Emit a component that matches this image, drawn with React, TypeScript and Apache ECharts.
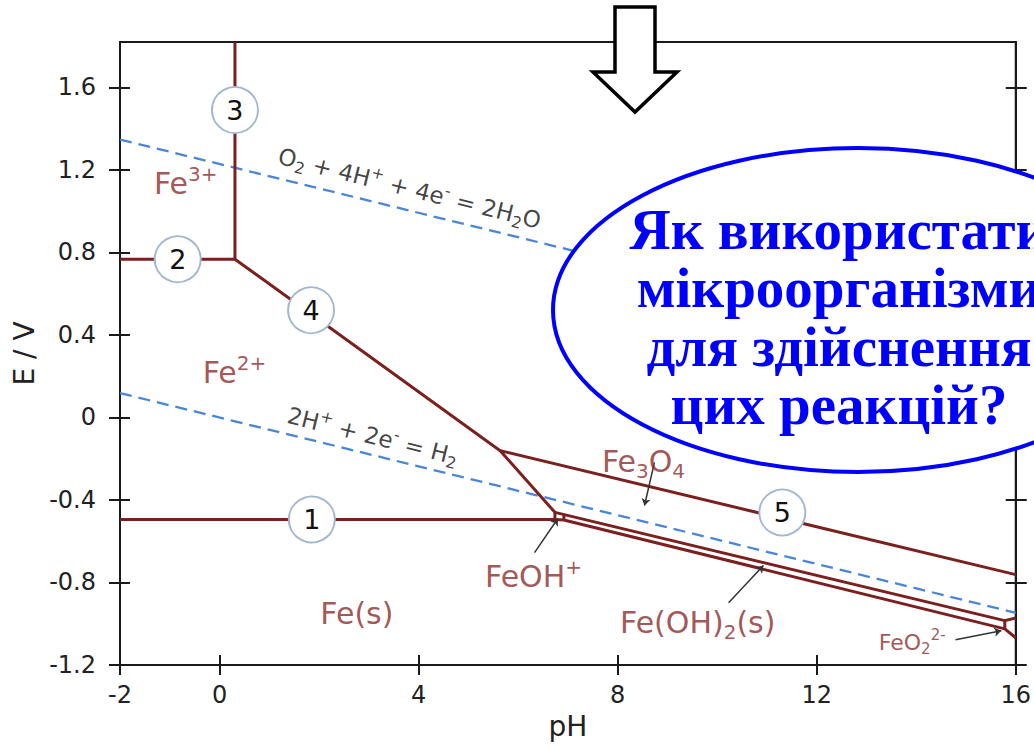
import React, { useEffect, useRef } from "react";
import * as echarts from "echarts";

// Axis ticks
const xTicks = [-2, 0, 4, 8, 12, 16];
const yTicks = [-1.2, -0.8, -0.4, 0, 0.4, 0.8, 1.2, 1.6];

// Phase boundaries [pH, E/V]
const lineFe2Fe = [[-2, -0.495], [6.74, -0.495]];
const lineFe3Fe2 = [[-2, 0.767], [0.31, 0.767]];
const lineFe3Oxide = [[0.31, 0.767], [0.31, 1.82]];
const lineOxideFe2 = [[0.31, 0.767], [5.64, -0.161], [6.74, -0.46]];
const lineOxideMagnetite = [[5.64, -0.161], [16, -0.762]];
const lineMagnetiteHydroxide = [[6.74, -0.46], [15.78, -0.985], [16, -0.972]];
const lineHydroxideFe = [[6.92, -0.497], [15.78, -1.025], [16, -1.068]];
const lineFeOHLeft = [[6.74, -0.46], [6.74, -0.495], [6.92, -0.497]];
const lineFeOHRight = [[6.92, -0.47], [6.92, -0.497]];
const lineFeO2 = [[15.78, -0.985], [15.78, -1.025]];
const boundaries = [
  lineFe2Fe, lineFe3Fe2, lineFe3Oxide, lineOxideFe2, lineOxideMagnetite,
  lineMagnetiteHydroxide, lineHydroxideFe, lineFeOHLeft, lineFeOHRight, lineFeO2,
];

// Water stability lines
const waterO2 = [[-2, 1.347], [16, 0.282]];
const waterH2 = [[-2, 0.118], [16, -0.947]];

// Numbered circles
const circleNums = ["1", "2", "3", "4", "5"];
const circlePos = [[1.855, -0.495], [-0.84, 0.767], [0.31, 1.49], [1.84, 0.52], [11.31, -0.461]];

// Region labels (rich-text markup: sup = superscript, sub = subscript)
const regionNames = ["{b|Fe}{sup|3+}", "{b|Fe}{sup|2+}", "{b|Fe(s)}", "{b|Fe}{sub|3}{b|O}{sub|4}", "{b|FeOH}{sup|+}", "{b|Fe(OH)}{sub|2}{b|(s)}"];
const regionPos = [[-0.68, 1.135], [0.3, 0.22], [2.76, -0.95], [8.52, -0.215], [6.31, -0.77], [9.61, -0.995]];
const smallNames = ["{b|FeO}{sub|2}{sup|2-}"];
const smallPos = [[13.92, -1.09]];

// Reaction labels
const reactionNames = ["{b|O}{sub|2}{b| + 4H}{sup|+}{b| + 4e}{sup|-}{b| = 2H}{sub|2}{b|O}", "{b|2H}{sup|+}{b| + 2e}{sup|-}{b| = H}{sub|2}"];
const reactionPos = [[3.82, 1.11], [3.08, -0.09]];

// Pointer arrows [from, to]
const pointers = [
  [[8.74, -0.218], [8.54, -0.427]],
  [[6.33, -0.655], [6.8, -0.49]],
  [[10.23, -0.898], [10.93, -0.718]],
  [[14.79, -1.078], [15.71, -1.034]],
];

// Overlay question
const questionLines = ["Як використати", "мікроорганізми", "для здійснення", "цих реакцій?"];

const FONT = "DejaVu Sans";
const AXIS = "#1a1a1a";
const BROWN = "#7b1f1f";
const LABEL_BROWN = "#8b2b2b";

function fmt(v: number) {
  if (Math.abs(v) < 1e-9) return "0";
  return Number.isInteger(v) ? String(v) : v.toFixed(1);
}

function richSet(size: number, color: string) {
  const small = Math.round(size * 0.68);
  const lh = Math.round(size * 1.3);
  return {
    b: { fontSize: size, color, fontFamily: FONT, lineHeight: lh, verticalAlign: "middle" },
    sup: { fontSize: small, color, fontFamily: FONT, lineHeight: small, verticalAlign: "top" },
    sub: { fontSize: small, color, fontFamily: FONT, lineHeight: small, verticalAlign: "bottom" },
  };
}

export default function App() {
  const ref = useRef<HTMLDivElement>(null);
  useEffect(() => {
    document.body.style.margin = "0";
    const chart = echarts.init(ref.current!, null, { renderer: "svg" });
    const baseX = {
      type: "value",
      min: -2,
      max: 16,
      position: "bottom",
      splitLine: { show: false },
    };
    const baseY = {
      type: "value",
      min: -1.2,
      max: 1.82,
      splitLine: { show: false },
    };
    const tickStyle = { color: AXIS, width: 2 };
    const option: any = {
      animation: false,
      backgroundColor: "#ffffff",
      textStyle: { fontFamily: FONT },
      grid: {
        left: 120, right: 18, top: 42, bottom: 82,
        show: true, borderColor: AXIS, borderWidth: 2, backgroundColor: "transparent",
      },
      xAxis: [
        {
          ...baseX,
          axisLine: { show: true, onZero: false, lineStyle: { color: AXIS, width: 2 } },
          axisTick: { show: true, length: 10, customValues: xTicks, lineStyle: tickStyle },
          axisLabel: {
            customValues: xTicks, fontSize: 24, color: "#222", margin: 18, fontFamily: FONT,
            formatter: (v: number) => fmt(v),
          },
          name: "pH", nameLocation: "middle", nameGap: 47,
          nameTextStyle: { fontSize: 28, color: "#222", fontFamily: FONT },
        },
        {
          ...baseX,
          axisLine: { show: false, onZero: false },
          axisTick: { show: true, inside: true, length: 10, customValues: xTicks, lineStyle: tickStyle },
          axisLabel: { show: false },
        },
      ],
      yAxis: [
        {
          ...baseY,
          position: "left",
          axisLine: { show: true, onZero: false, lineStyle: { color: AXIS, width: 2 } },
          axisTick: { show: true, length: 11, customValues: yTicks, lineStyle: tickStyle },
          axisLabel: {
            customValues: yTicks, fontSize: 24, color: "#222", margin: 24, fontFamily: FONT,
            formatter: (v: number) => fmt(v),
          },
          name: "E / V", nameLocation: "middle", nameGap: 76, nameRotate: 90,
          nameTextStyle: { fontSize: 28, color: "#222", fontFamily: FONT },
        },
        {
          ...baseY,
          position: "left",
          axisLine: { show: false, onZero: false },
          axisTick: { show: true, inside: true, length: 10, customValues: yTicks, lineStyle: tickStyle },
          axisLabel: { show: false },
        },
        {
          ...baseY,
          position: "right",
          axisLine: { show: true, onZero: false, lineStyle: { color: AXIS, width: 2 } },
          axisTick: { show: true, length: 11, customValues: yTicks, lineStyle: tickStyle },
          axisLabel: { show: false },
        },
        {
          ...baseY,
          position: "right",
          axisLine: { show: false, onZero: false },
          axisTick: { show: true, inside: true, length: 10, customValues: yTicks, lineStyle: tickStyle },
          axisLabel: { show: false },
        },
      ],
      series: [
        ...boundaries.map((d) => ({
          type: "line",
          data: d,
          symbol: "none",
          z: 3,
          lineStyle: { color: BROWN, width: 3 },
        })),
        ...[waterO2, waterH2].map((d) => ({
          type: "line",
          data: d,
          symbol: "none",
          z: 2,
          lineStyle: { color: "#4a86d8", width: 2.3, type: [12, 7] },
        })),
        {
          type: "lines",
          coordinateSystem: "cartesian2d",
          symbol: ["none", "arrow"],
          symbolSize: 7,
          z: 4,
          lineStyle: { color: "#333", width: 1.5, opacity: 1 },
          data: pointers.map((p) => ({ coords: p })),
        },
        {
          type: "scatter",
          z: 5,
          symbol: "circle",
          symbolSize: 46,
          data: circlePos,
          itemStyle: { color: "#ffffff", borderColor: "#a3b7d1", borderWidth: 2, opacity: 1 },
          label: {
            show: true, position: "inside", color: "#111", fontSize: 27, fontFamily: FONT,
            formatter: (p: any) => circleNums[p.dataIndex],
          },
        },
        {
          type: "scatter",
          z: 6,
          symbolSize: 1,
          data: regionPos,
          itemStyle: { color: "transparent" },
          label: {
            show: true, position: "inside",
            formatter: (p: any) => regionNames[p.dataIndex],
            rich: richSet(30, LABEL_BROWN),
          },
        },
        {
          type: "scatter",
          z: 6,
          symbolSize: 1,
          data: smallPos,
          itemStyle: { color: "transparent" },
          label: {
            show: true, position: "inside",
            formatter: (p: any) => smallNames[p.dataIndex],
            rich: richSet(22, LABEL_BROWN),
          },
        },
        {
          type: "scatter",
          z: 6,
          symbolSize: 1,
          data: reactionPos,
          itemStyle: { color: "transparent" },
          label: {
            show: true, position: "inside", rotate: -14,
            formatter: (p: any) => reactionNames[p.dataIndex],
            rich: richSet(23, "#111"),
          },
        },
      ],
      graphic: [
        {
          type: "ellipse",
          z: 100,
          shape: { cx: 858, cy: 310, rx: 305, ry: 162 },
          style: { fill: "#ffffff", stroke: "#0000ff", lineWidth: 4 },
        },
        ...questionLines.map((t, i) => ({
          type: "text",
          z: 101,
          x: 839,
          y: 229 + i * 58.5,
          style: {
            text: t,
            fontSize: 57,
            fontWeight: "bold",
            fontFamily: "Liberation Serif",
            fill: "#0000ff",
            align: "center",
            verticalAlign: "middle",
          },
        })),
        {
          type: "polygon",
          z: 100,
          shape: {
            points: [[615, 7], [655, 7], [655, 72], [677, 72], [635, 112], [593, 72], [615, 72]],
          },
          style: { fill: "#ffffff", stroke: "#000000", lineWidth: 3.5 },
        },
      ],
    };
    chart.setOption(option);
    return () => chart.dispose();
  }, []);
  return <div ref={ref} style={{ width: 1034, height: 747 }} />;
}
